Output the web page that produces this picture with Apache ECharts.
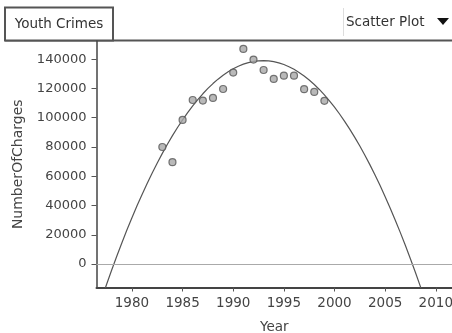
<!DOCTYPE html>
<html>
<head>
<meta charset="utf-8">
<script src="https://cdn.jsdelivr.net/npm/echarts@6/dist/echarts.min.js"></script>
<style>html,body{margin:0;padding:0;background:#fff;}#c{width:452px;height:333px;}</style>
</head>
<body>
<div id="c"></div>
<script>
// Observed data
var years = [1983,1984,1985,1986,1987,1988,1989,1990,1991,1992,1993,1994,1995,1996,1997,1998,1999];
var charges = [80000,69600,98500,112100,111700,113500,119600,130800,147000,139700,132600,126500,128700,128700,119500,117600,111500];
// Fitted curve, every half year
var curveYears = [1977,1977.5,1978,1978.5,1979,1979.5,1980,1980.5,1981,1981.5,1982,1982.5,1983,1983.5,1984,1984.5,1985,1985.5,1986,1986.5,1987,1987.5,1988,1988.5,1989,1989.5,1990,1990.5,1991,1991.5,1992,1992.5,1993,1993.5,1994,1994.5,1995,1995.5,1996,1996.5,1997,1997.5,1998,1998.5,1999,1999.5,2000,2000.5,2001,2001.5,2002,2002.5,2003,2003.5,2004,2004.5,2005,2005.5,2006,2006.5,2007,2007.5,2008,2008.5,2009];
var curveValues = [-23820,-13770,-4040,5370,14460,23220,31670,39800,47610,55100,62260,69110,75640,81850,87740,93300,98550,103480,108090,112380,116340,119990,123320,126330,129020,131380,133430,135160,136570,137660,138420,138870,139000,138810,138300,137460,136310,134840,133050,130940,128500,125750,122680,119290,115580,111540,107190,102520,97530,92220,86580,80630,74360,67770,60860,53620,46070,38200,30010,21500,12660,3510,-5960,-15750,-25870];
var xTicks = [1980,1985,1990,1995,2000,2005,2010];
var yTicks = [0,20000,40000,60000,80000,100000,120000,140000];

var font = 'DejaVu Sans';
var chart = echarts.init(document.getElementById('c'));
var pts = years.map(function(y,i){return [y, charges[i]];});
var curve = curveYears.map(function(y,i){return [y, curveValues[i]];});
chart.setOption({
  animation: false,
  grid: {left: 96.5, right: 0, top: 41, bottom: 45.5, containLabel: false, outerBoundsMode: 'none'},
  xAxis: {
    type: 'value', min: 1976.5, max: 2011.6,
    name: 'Year', nameLocation: 'middle', nameGap: 33,
    nameTextStyle: {fontFamily: font, fontSize: 13.5, color: '#444'},
    axisLine: {show: true, onZero: false, lineStyle: {color: '#444', width: 2}},
    axisTick: {show: true, length: 4, customValues: xTicks, lineStyle: {color: '#555'}},
    axisLabel: {customValues: xTicks, margin: 9, fontFamily: font, fontSize: 13.5, color: '#444',
      formatter: function(v){return String(v);}},
    splitLine: {show: false}
  },
  yAxis: {
    type: 'value', min: -16000, max: 152400,
    name: 'NumberOfCharges', nameLocation: 'middle', nameGap: 71,
    nameTextStyle: {fontFamily: font, fontSize: 14, color: '#444'},
    axisLine: {show: true, onZero: false, lineStyle: {color: '#444', width: 1.5}},
    axisTick: {show: true, length: 5, customValues: yTicks, lineStyle: {color: '#555'}},
    axisLabel: {customValues: yTicks, margin: 10, fontFamily: font, fontSize: 13, color: '#444',
      formatter: function(v){return String(v);}},
    splitLine: {show: false}
  },
  series: [
    {
      type: 'line', data: curve, symbol: 'none', smooth: false, clip: true,
      lineStyle: {color: '#555', width: 1.2}, z: 2,
      markLine: {silent: true, symbol: 'none', label: {show: false},
        lineStyle: {color: '#aaa', width: 1, type: 'solid'}, data: [{yAxis: 0}]}
    },
    {
      type: 'scatter', data: pts, symbol: 'circle', symbolSize: 7,
      itemStyle: {color: '#a8a8a8', borderColor: '#555', borderWidth: 1.2}, z: 3
    }
  ],
  graphic: [
    {type: 'line', shape: {x1: 5, y1: 40.5, x2: 452, y2: 40.5}, style: {stroke: '#555', lineWidth: 2}},
    {type: 'rect', shape: {x: 5, y: 7.5, width: 108, height: 33}, style: {fill: '#fff', stroke: '#555', lineWidth: 2}},
    {type: 'text', x: 59, y: 24, style: {text: 'Youth Crimes', font: '13.5px "DejaVu Sans"', fill: '#333', align: 'center', verticalAlign: 'middle'}},
    {type: 'line', shape: {x1: 343.5, y1: 8, x2: 343.5, y2: 36}, style: {stroke: '#ddd', lineWidth: 1}},
    {type: 'text', x: 346, y: 22, style: {text: 'Scatter Plot', font: '13.5px "DejaVu Sans"', fill: '#333', align: 'left', verticalAlign: 'middle'}},
    {type: 'polygon', shape: {points: [[437,18],[449,18],[443,25]]}, style: {fill: '#111'}}
  ]
});
</script>
</body>
</html>
